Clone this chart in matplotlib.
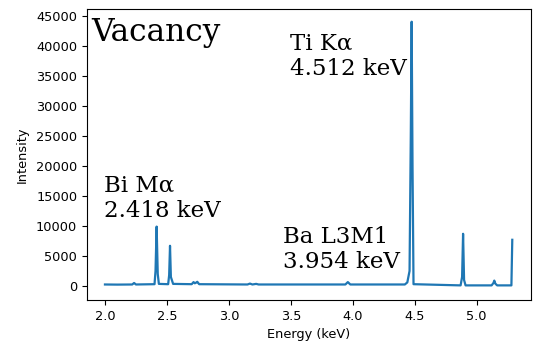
import matplotlib
matplotlib.use("Agg")
import matplotlib.pyplot as plt

# Spectrum (energy in keV, intensity in counts)
energy = [2.00, 2.10, 2.22, 2.235, 2.25, 2.40, 2.408, 2.417, 2.426, 2.435,
          2.51, 2.518, 2.525, 2.532, 2.55, 2.70, 2.715, 2.725, 2.735, 2.745,
          2.76, 3.15, 3.17, 3.19, 3.22, 3.24, 3.94, 3.96, 3.98, 4.42,
          4.44, 4.458, 4.468, 4.475, 4.482, 4.49, 4.87, 4.882, 4.89, 4.898,
          4.91, 5.12, 5.135, 5.142, 5.15, 5.165, 5.28, 5.287]
intensity = [250, 230, 250, 500, 250, 300, 2500, 9900, 2000, 350,
             300, 1800, 6700, 1500, 350, 300, 650, 450, 550, 700,
             300, 250, 400, 250, 350, 250, 250, 650, 250, 250,
             600, 2500, 25000, 44050, 20000, 300, 100, 1500, 8700, 1000,
             100, 100, 500, 900, 400, 100, 100, 7700]

title_text = "Vacancy"
peak_labels = ["Bi Mα\n2.418 keV", "Ti Kα\n4.512 keV", "Ba L3M1\n3.954 keV"]
label_x = [1.993, 3.493, 3.437]
label_y = [11550, 35170, 2950]

xticks = [2.0, 2.5, 3.0, 3.5, 4.0, 4.5, 5.0]
yticks = [0, 5000, 10000, 15000, 20000, 25000, 30000, 35000, 40000, 45000]

fig = plt.figure(figsize=(5.35, 3.46), dpi=100)
ax = fig.add_axes([0.1626, 0.133, 0.8299, 0.841])
ax.plot(energy, intensity, color="#1f77b4", lw=1.6)

ax.set_xlim(1.855, 5.438)
ax.set_ylim(-2333, 46170)
ax.set_xticks(xticks)
ax.set_yticks(yticks)
ax.tick_params(labelsize=9.3)
ax.set_xlabel("Energy (keV)", fontsize=9.3)
ax.set_ylabel("Intensity", fontsize=9.3, labelpad=5.5)

ax.text(1.888, 40800, title_text, family="DejaVu Serif", fontsize=22.5,
        ha="left", va="baseline")
for s, x, y in zip(peak_labels, label_x, label_y):
    ax.text(x, y, s, family="DejaVu Serif", fontsize=16.5,
            ha="left", va="baseline")

fig.savefig("out.png", dpi=100)
